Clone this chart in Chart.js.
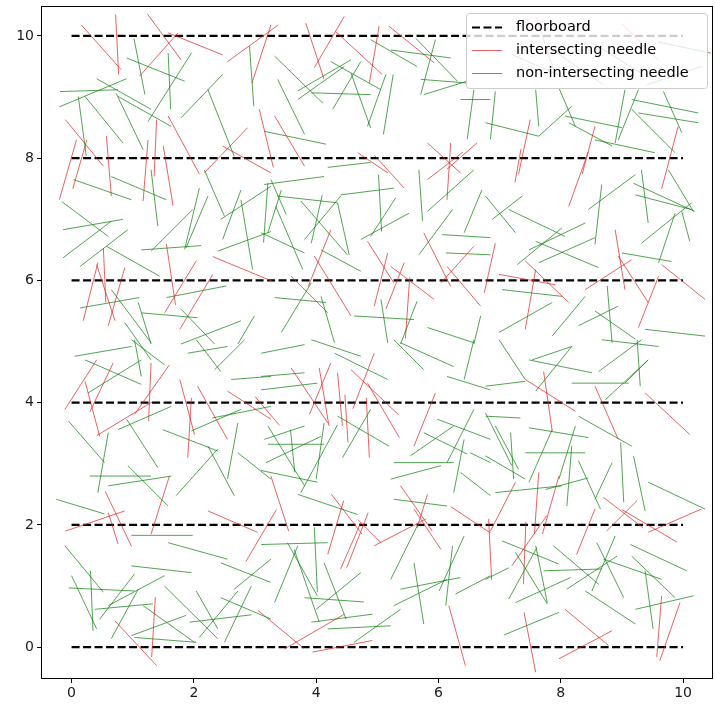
<!DOCTYPE html>
<html>
<head>
<meta charset="utf-8">
<script src="https://cdn.jsdelivr.net/npm/chart.js@4.4.0/dist/chart.umd.min.js"></script>
<style>
    html, body { margin: 0; padding: 0; background: #fff; }
    #wrap { width: 715px; height: 707px; position: relative; }
</style>
</head>
<body>
<div id="wrap"><canvas id="needleChart"></canvas></div>
<script>
// ---- data: each needle is [x1, y1, x2, y2] ----
const floorY = [0, 2, 4, 6, 8, 10];
const floorX = [0, 10];
const xTicks = [0, 2, 4, 6, 8, 10];
const yTicks = [0, 2, 4, 6, 8, 10];
const legendLabels = ['floorboard', 'intersecting needle', 'non-intersecting needle'];

const redNeedles = [
    [0.16,10.18,0.81,9.45], [0.72,10.35,0.77,9.37], [1.24,10.36,1.79,9.61], [1.58,10.05,2.47,9.69],
    [1.11,9.34,1.74,10.05], [2.55,9.58,3.38,10.18], [2.95,9.23,3.26,10.18], [1.58,8.69,2.09,7.74],
    [-0.1,8.63,0.52,7.87], [0.25,8.3,0.02,7.5], [0.57,8.36,0.65,7.38], [1.25,8.3,1.17,7.3],
    [1.39,8.63,1.35,7.7], [1.5,8.2,1.66,7.22], [2.17,7.76,2.88,8.5], [2.47,8.2,3.26,7.76],
    [3.07,8.8,3.3,7.85], [3.83,10.21,4.13,9.29], [3.97,9.48,4.46,10.32], [4.32,10.07,5.08,9.37],
    [5.03,10.16,4.87,9.23], [5.19,10.16,5.93,9.56], [3.32,8.69,3.81,7.87], [5.82,8.25,6.36,7.76],
    [6.2,8.25,6.14,7.32], [6.63,8.25,6.14,7.82], [4.68,8.09,5.17,7.76], [7.5,8.63,7.31,7.74],
    [8.56,8.52,8.35,7.74], [9.92,8.52,9.65,7.5], [-0.2,7.32,0.08,8.3], [7.6,10.3,7.9,9.4],
    [9.0,10.2,9.6,9.6],
    [2.31,6.39,3.3,5.98], [0.52,6.53,0.56,5.64], [0.43,6.29,0.19,5.34], [0.41,6.26,0.71,5.34],
    [0.87,6.21,0.6,5.26], [1.55,6.6,1.7,5.6], [2.04,6.32,1.52,5.47], [2.31,6.1,1.77,5.2],
    [4.95,8.05,5.44,7.51], [5.82,7.65,6.4,8.1], [4.24,6.83,3.87,5.9], [3.97,6.4,4.57,5.42],
    [3.59,6.07,4.19,5.47], [4.84,6.64,5.27,5.96], [5.17,6.45,4.95,5.58], [5.22,6.23,5.93,5.69],
    [5.44,6.29,5.14,5.53], [5.76,6.78,6.2,5.9], [6.58,6.56,6.04,5.96], [6.14,6.23,6.69,5.58],
    [5.53,6.05,5.46,5.05], [7.25,7.6,7.35,8.15], [8.13,7.21,8.45,8.1], [8.89,6.83,9.05,5.85],
    [9.16,6.34,8.4,5.85], [8.94,6.4,9.43,5.64], [9.65,6.26,10.36,5.69], [9.6,6.07,9.27,5.23],
    [6.93,6.61,6.75,5.8], [7.42,6.32,8.13,5.64], [7.59,6.18,7.42,5.2], [6.99,6.1,7.91,5.93],
    [-0.11,3.89,0.41,4.7], [0.22,4.35,0.46,3.45], [0.3,3.85,0.68,4.65], [1.3,4.65,1.26,3.7],
    [1.6,4.62,1.03,3.81], [0.41,3.46,1.33,4.02], [1.77,4.38,2.01,3.48], [2.06,4.27,2.55,3.4],
    [1.96,4.08,1.9,3.1], [2.55,4.19,3.26,3.73], [0.55,2.55,0.98,1.65], [1.6,2.8,1.3,1.85],
    [3.59,4.57,4.19,3.67], [4.24,4.65,3.89,3.81], [4.05,4.57,4.21,3.62], [4.35,4.49,4.43,3.62],
    [4.57,4.54,5.35,3.8], [4.95,4.81,4.6,3.9], [4.84,4.32,5.36,3.43], [4.47,4.13,4.52,3.35],
    [4.82,4.08,4.87,3.1], [5.95,4.16,5.6,3.29], [3.0,4.1,3.4,3.63], [3.26,2.8,3.55,1.9],
    [4.25,2.5,4.75,1.85], [5.38,2.64,5.9,1.9], [5.82,2.5,5.65,1.95], [6.2,2.3,6.85,1.87],
    [7.42,4.38,8.24,3.86], [7.72,4.51,7.86,3.54], [8.56,4.27,8.94,3.4], [9.38,4.16,10.11,3.48],
    [7.26,2.7,6.85,1.9], [7.64,2.86,7.57,1.85], [7.97,2.8,7.7,1.85], [8.7,2.45,9.35,1.95],
    [8.75,1.9,9.25,2.4],
    [-0.1,1.9,0.87,2.23], [0.6,2.2,0.76,1.69], [0.71,0.43,1.39,-0.3], [1.37,0.82,1.31,-0.16],
    [2.85,1.4,3.35,2.25], [2.23,2.23,3.04,1.88], [4.45,2.4,4.19,1.52], [4.73,2.04,4.4,1.28],
    [4.85,2.2,4.5,1.3], [4.68,2.09,5.06,1.71], [4.95,1.66,5.8,2.1], [5.6,2.26,6.04,1.6],
    [6.17,0.68,6.44,-0.3], [3.05,0.6,3.8,-0.02], [3.48,-0.03,4.46,0.54], [3.94,-0.08,4.92,0.11],
    [6.82,2.1,6.87,1.1], [7.77,2.15,7.2,1.33], [7.43,2.05,7.39,1.03], [8.56,2.26,8.26,1.52],
    [9.0,2.25,9.9,1.72], [9.43,1.88,10.3,2.26], [7.4,0.57,7.59,-0.41], [8.07,0.62,8.78,0.03],
    [7.97,-0.19,8.84,0.27], [9.65,0.84,9.57,-0.16], [9.95,0.73,9.62,-0.22]
];

const greenNeedles = [
    // band 8 - 10
    [1.02,9.96,1.2,9.04], [0.9,9.64,1.85,9.26], [0.41,9.3,1.3,8.8], [-0.19,9.09,0.76,9.12],
    [-0.2,8.84,0.9,9.3], [0.11,9.01,0.24,8.04], [0.22,9.01,0.84,8.25], [0.73,9.06,1.17,8.14],
    [0.76,9.01,1.63,8.52], [1.25,8.6,1.96,9.72], [1.58,9.72,1.62,8.8], [1.79,8.66,2.47,9.37],
    [2.23,9.12,2.66,8.03], [2.91,9.83,2.98,8.85],
    [3.32,9.67,4.11,8.9], [3.7,9.1,4.57,9.61], [3.7,8.96,4.46,9.5], [3.92,9.07,4.89,9.04],
    [4.24,9.58,5.06,9.12], [4.27,8.8,4.73,9.58], [4.57,9.39,4.89,8.5], [4.84,8.52,5.14,9.37],
    [3.37,9.29,3.81,8.39], [5.1,8.39,5.26,9.37], [4.89,9.94,5.65,9.5], [5.22,9.77,6.2,9.64],
    [5.63,9.96,6.31,9.26], [5.95,9.94,5.71,9.04], [5.71,9.29,6.47,9.23], [5.76,9.04,6.47,9.26],
    [3.15,8.44,4.16,8.23], [6.36,8.96,6.85,8.96], [6.58,9.12,6.47,8.31],
    [6.77,8.58,7.64,8.36], [7.64,8.36,8.18,8.85], [6.93,9.09,6.85,8.31], [7.59,9.12,7.64,8.52],
    [7.97,9.15,8.24,8.52], [8.07,8.69,9.0,8.5], [8.13,8.58,8.84,8.2], [8.56,8.3,9.54,8.09],
    [9.05,9.12,8.89,8.25], [9.27,9.12,8.94,8.3], [9.16,8.96,10.25,8.74], [9.27,8.74,10.25,8.58],
    [9.68,9.09,9.98,8.42], [9.16,8.8,9.87,8.09], [9.6,9.9,10.45,9.72], [7.2,9.7,8.1,9.3],
    [8.5,9.9,9.3,9.4], [9.4,9.2,10.3,9.5], [7.9,9.75,8.7,9.2],
    // band 6 - 8
    [4.19,7.85,4.89,7.93],
    [0.03,7.65,0.98,7.32], [0.65,7.7,1.55,7.32], [-0.16,7.29,0.6,6.72], [-0.14,6.83,0.84,7.0],
    [-0.14,6.37,0.65,6.97], [0.14,6.23,0.92,6.83], [0.57,6.56,1.44,6.07], [1.3,7.81,1.41,6.89],
    [1.14,6.5,2.12,6.57], [1.3,6.48,1.98,7.16], [1.85,6.51,2.09,7.51], [1.87,6.53,2.23,7.38],
    [2.17,7.81,2.5,7.05], [2.47,6.67,2.77,7.48], [2.44,7.0,3.26,7.54], [2.39,6.48,3.26,6.8],
    [2.77,7.32,2.96,6.18],
    [3.15,7.57,4.13,7.7], [3.21,7.59,3.14,6.62], [3.26,7.65,3.51,7.08], [3.34,7.21,3.78,6.18],
    [3.21,6.78,3.43,7.48], [3.37,7.38,4.35,7.27], [3.75,7.3,4.51,6.42], [3.92,6.61,4.1,7.4],
    [3.81,6.67,4.4,7.38], [4.4,7.4,5.27,7.51], [4.35,7.27,4.54,6.42], [5.02,7.73,5.07,6.8],
    [4.73,6.67,5.52,7.1], [4.89,6.72,5.3,7.35], [4.08,6.5,4.73,6.15], [3.1,6.78,3.81,6.45],
    [5.68,7.81,5.74,6.97], [5.82,7.13,6.58,7.81], [5.68,6.42,6.23,7.16], [6.06,6.75,6.85,6.7],
    [6.12,6.45,6.85,6.42], [6.42,6.78,6.71,7.48],
    [6.77,7.38,7.26,6.78], [6.88,7.0,7.37,7.38], [7.15,7.16,8.07,6.72], [8.45,7.16,9.22,7.73],
    [8.67,7.57,8.56,6.59], [9.19,7.59,10.19,7.13], [9.22,7.4,10.14,7.16], [9.32,7.81,9.43,6.94],
    [9.76,7.81,10.17,7.13], [10.14,7.27,9.32,6.61], [9.98,7.13,10.11,6.64], [9.87,7.1,9.6,6.29],
    [7.48,6.5,8.4,6.94], [7.29,6.26,8.02,6.86], [7.64,6.29,8.56,6.7], [7.59,6.64,8.62,6.21],
    [9.0,6.45,9.81,6.31],
    // band 4 - 6
    [0.14,5.55,1.11,5.72], [1.55,5.72,2.53,5.91], [0.65,5.85,1.3,4.98], [1.09,5.64,1.3,4.96],
    [1.14,5.47,2.06,5.39], [0.87,5.31,1.3,4.7], [1.79,5.53,2.34,4.96], [1.79,4.96,2.77,5.34],
    [2.72,4.96,2.99,5.42],
    [3.32,5.72,4.16,5.64], [3.43,5.15,3.92,5.96], [4.08,5.74,4.3,4.98], [4.62,5.42,5.6,5.36],
    [5.06,5.69,5.17,4.98], [5.65,5.66,5.38,4.96], [5.82,5.23,6.58,4.98], [6.69,5.42,6.58,4.96],
    [7.04,5.85,8.02,5.74], [6.99,5.15,7.86,5.64], [7.86,5.09,8.4,5.74], [8.56,5.5,9.22,5.04],
    [8.76,5.91,8.84,4.98], [8.29,5.26,8.94,5.58], [9.38,5.2,10.36,5.09],
    [0.05,4.76,0.98,4.92], [0.98,5.03,1.52,4.62], [1.03,5.03,1.14,4.43], [0.22,4.7,1.14,4.3],
    [0.27,4.16,1.14,4.7], [2.61,4.38,3.26,4.43], [1.9,4.81,2.55,4.92], [2.04,5.03,2.44,4.51],
    [2.34,4.54,2.83,5.03],
    [3.1,4.81,3.81,4.95], [3.92,5.03,4.73,4.76], [4.3,4.81,5.17,4.38], [3.1,4.43,3.81,4.49],
    [3.1,4.21,4.02,4.32], [5.27,5.03,5.76,4.54], [5.38,4.98,6.25,4.59], [6.42,4.38,6.58,5.03],
    [6.14,4.43,6.85,4.21],
    [7.53,4.7,8.18,4.92], [7.48,4.7,8.51,4.49], [6.99,5.03,7.42,4.38], [6.77,4.27,7.42,4.35],
    [7.59,4.19,8.18,4.92], [8.18,4.32,9.11,4.32], [8.62,4.51,9.32,5.03], [8.67,5.03,9.6,4.92],
    [9.05,4.32,9.43,4.7], [9.25,5.03,9.3,4.27], [8.73,4.05,9.43,4.7],
    // band 2 - 4
    [-0.05,3.7,0.54,3.02], [0.76,3.56,1.63,3.94], [0.9,3.73,1.41,2.94], [0.6,3.51,0.43,2.53],
    [1.49,3.56,2.39,3.21], [1.96,3.54,2.77,3.89], [2.23,3.29,2.66,2.48], [2.72,3.67,2.55,2.75],
    [2.3,3.75,3.26,3.94], [1.71,2.48,2.39,3.24], [0.3,2.8,1.3,2.8], [0.6,2.64,1.63,2.8],
    [0.92,2.97,1.58,2.31], [-0.25,2.42,0.54,2.18], [2.72,3.18,3.26,2.75],
    [4.35,3.78,5.19,3.29], [4.89,3.89,4.43,3.1], [3.15,3.4,3.81,3.62], [3.58,3.56,3.65,2.86],
    [3.21,3.32,4.13,3.32], [3.1,2.89,4.02,2.7], [3.18,3.02,4.08,3.45], [3.75,2.53,4.35,3.64],
    [4.0,2.75,4.13,3.67], [3.21,3.62,3.81,2.64], [3.7,2.5,4.68,2.17], [5.27,3.02,6.25,3.02],
    [5.54,3.13,6.25,3.62], [5.98,3.73,6.85,3.4], [5.76,3.51,6.47,3.16], [6.58,3.89,6.14,3.02],
    [5.22,2.75,6.04,2.97], [6.42,3.4,6.25,2.53], [6.52,3.18,6.85,3.02], [6.36,2.86,6.85,2.48],
    [5.27,2.42,6.14,2.31],
    [6.77,3.83,7.2,2.97], [6.77,3.78,7.34,3.75], [6.93,3.62,7.31,2.91], [7.18,3.51,7.23,2.75],
    [6.77,3.13,7.42,2.75], [7.48,3.59,8.45,3.43], [7.42,3.18,8.4,3.18], [8.29,3.78,9.16,3.29],
    [8.24,3.62,7.97,2.75], [7.86,3.56,7.48,2.7], [8.18,3.29,8.1,2.31], [8.29,3.05,8.65,2.26],
    [8.84,3.02,8.56,2.42], [8.98,3.35,9.03,2.37], [9.19,3.13,9.38,2.23], [9.43,2.7,10.36,2.26],
    [7.75,2.58,8.45,2.77], [6.93,2.53,8.02,2.64],
    // band 0 - 2
    [0.98,1.83,1.98,1.83], [1.58,1.71,2.55,1.44], [-0.11,1.66,0.52,0.9], [0.0,1.17,0.41,0.3],
    [0.31,1.25,0.35,0.27], [-0.05,0.97,1.03,0.92], [0.98,1.33,1.96,1.22], [0.46,0.46,1.03,1.2],
    [0.6,0.68,1.52,1.17], [0.65,0.14,1.09,0.95], [0.38,0.62,1.33,0.71], [1.17,0.68,2.01,0.08],
    [0.98,0.19,1.87,0.52], [1.03,0.16,2.04,0.08], [1.52,1.0,2.39,0.14], [2.04,0.92,2.39,0.3],
    [1.93,0.41,2.94,0.53], [2.09,0.16,2.72,0.92], [2.5,0.08,2.94,1.0], [2.44,0.81,3.26,0.46],
    [2.44,1.38,3.26,1.06], [2.66,0.95,3.26,1.44],
    [3.1,1.68,4.19,1.71], [3.53,1.71,4.02,0.84], [3.7,1.66,3.32,0.73], [3.64,1.6,4.05,0.41],
    [3.97,1.96,4.02,0.9], [4.13,1.38,4.49,0.46], [4.0,0.62,4.73,1.22], [3.81,0.81,4.78,0.74],
    [3.92,0.41,4.92,0.54], [4.19,0.3,5.22,0.35], [4.62,0.08,5.38,0.62], [5.22,1.11,5.65,1.98],
    [5.6,1.38,5.76,0.38], [5.38,0.95,6.36,1.14], [5.27,0.68,6.14,1.11], [6.01,0.92,6.42,1.82],
    [6.12,0.68,6.23,1.66], [6.28,0.87,6.85,1.17],
    [7.04,1.74,7.97,1.36], [7.26,1.55,7.78,0.71], [7.59,1.66,7.78,0.73], [7.15,0.79,7.61,1.63],
    [7.26,0.73,8.16,1.14], [7.72,1.25,8.67,1.28], [7.88,1.66,8.62,1.03], [8.1,0.95,8.92,1.49],
    [8.51,0.92,8.89,1.82], [8.59,1.71,9.03,0.81], [8.7,1.44,9.65,1.11], [9.14,1.68,10.06,1.25],
    [9.16,1.49,9.87,0.81], [9.38,1.25,9.51,0.3], [9.22,0.62,10.17,0.84], [8.4,0.92,9.22,0.38],
    [7.07,0.2,7.97,0.57], [6.77,1.11,7.15,1.3]
];

// axis limits as they appear in the picture
const X_MIN = -0.5, X_MAX = 10.49;
const Y_MIN = -0.52, Y_MAX = 10.49;

const FONT = '"DejaVu Sans", sans-serif';

// segments -> one polyline with NaN gaps between segments
function toSegments(list) {
    const pts = [];
    list.forEach(s => {
        pts.push({ x: s[0], y: s[1] }, { x: s[2], y: s[3] }, { x: NaN, y: NaN });
    });
    return pts;
}

const floorSegments = floorY.map(y => [floorX[0], y, floorX[1], y]);

// keep the plot box at a fixed place: no label overhang padding
function fixAxis(size, horizontal) {
    return scale => {
        if (horizontal) scale.height = size; else scale.width = size;
        scale.paddingTop = 0;
        scale.paddingBottom = 0;
        scale.paddingLeft = 0;
        scale.paddingRight = 0;
    };
}

// matplotlib-style legend box inside the axes (upper right)
const boxLegend = {
    id: 'boxLegend',
    afterDatasetsDraw(chart) {
        const ctx = chart.ctx;
        const a = chart.chartArea;
        const w = 241, h = 75;
        const x = a.right - 247, y = a.top + 7;
        ctx.save();
        ctx.beginPath();
        ctx.roundRect(x + 0.5, y + 0.5, w, h, 3);
        ctx.fillStyle = 'rgba(255,255,255,0.8)';
        ctx.fill();
        ctx.strokeStyle = '#cccccc';
        ctx.lineWidth = 1;
        ctx.stroke();
        ctx.font = '14.5px ' + FONT;
        ctx.textBaseline = 'middle';
        ctx.fillStyle = '#000';
        chart.data.datasets.forEach((ds, i) => {
            const ry = Math.round(y + 13.7 + i * 23.3) + 0.5;
            ctx.beginPath();
            ctx.setLineDash(ds.borderDash || []);
            ctx.strokeStyle = ds.borderColor;
            ctx.lineWidth = ds.borderWidth;
            ctx.moveTo(x + 6, ry);
            ctx.lineTo(x + 36, ry);
            ctx.stroke();
            ctx.setLineDash([]);
            ctx.fillText(legendLabels[i], x + 50, ry);
        });
        ctx.restore();
    },
    afterDraw(chart) {
        // full frame around the axes
        const ctx = chart.ctx;
        const a = chart.chartArea;
        ctx.save();
        ctx.strokeStyle = '#000';
        ctx.lineWidth = 1;
        ctx.strokeRect(a.left + 0.5, a.top + 0.5, a.right - a.left - 1, a.bottom - a.top - 1);
        ctx.restore();
    }
};

function initNeedleChart() {
    const ctx = document.getElementById('needleChart').getContext('2d');
    Chart.defaults.font.family = FONT;
    Chart.defaults.font.size = 14;
    Chart.defaults.color = '#1a1a1a';

    new Chart(ctx, {
        type: 'scatter',
        data: {
            datasets: [{
                label: legendLabels[0],
                data: toSegments(floorSegments),
                showLine: true,
                borderColor: '#000000',
                borderWidth: 2.2,
                borderDash: [8, 3.5],
                pointRadius: 0,
                spanGaps: false,
                order: 3
            }, {
                label: legendLabels[1],
                data: toSegments(redNeedles),
                showLine: true,
                borderColor: 'rgba(228,30,30,0.7)',
                borderWidth: 1,
                pointRadius: 0,
                spanGaps: false,
                order: 2
            }, {
                label: legendLabels[2],
                data: toSegments(greenNeedles),
                showLine: true,
                borderColor: 'rgba(10,125,10,0.7)',
                borderWidth: 1,
                pointRadius: 0,
                spanGaps: false,
                order: 1
            }]
        },
        options: {
            responsive: true,
            maintainAspectRatio: false,
            animation: false,
            layout: { padding: { top: 6, right: 2, left: 0, bottom: 0 } },
            plugins: {
                legend: { display: false },
                tooltip: { enabled: false }
            },
            scales: {
                x: {
                    type: 'linear',
                    min: X_MIN,
                    max: X_MAX,
                    afterBuildTicks: scale => { scale.ticks = xTicks.map(v => ({ value: v })); },
                    afterFit: fixAxis(28, true),
                    ticks: { padding: 2, maxRotation: 0, autoSkip: false },
                    grid: { drawOnChartArea: false, drawTicks: true, tickLength: 4, color: '#000' },
                    border: { display: false }
                },
                y: {
                    type: 'linear',
                    min: Y_MIN,
                    max: Y_MAX,
                    afterBuildTicks: scale => { scale.ticks = yTicks.map(v => ({ value: v })); },
                    afterFit: fixAxis(41, false),
                    ticks: { padding: 3, autoSkip: false },
                    grid: { drawOnChartArea: false, drawTicks: true, tickLength: 4, color: '#000' },
                    border: { display: false }
                }
            }
        },
        plugins: [boxLegend]
    });
}

document.addEventListener('DOMContentLoaded', initNeedleChart);
</script>
</body>
</html>
